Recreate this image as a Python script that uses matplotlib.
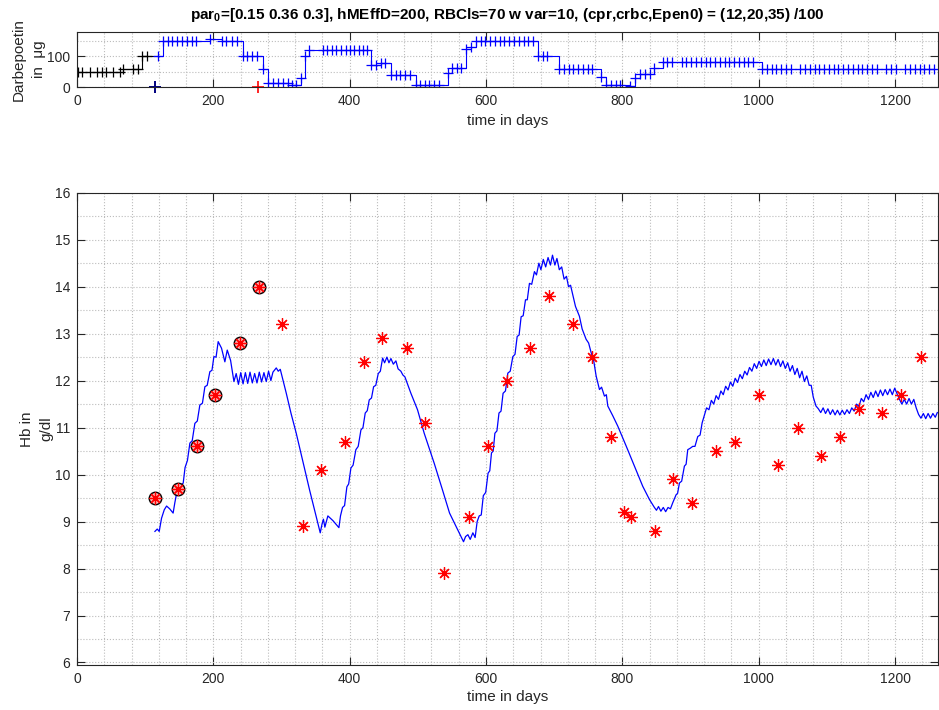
import matplotlib

matplotlib.use("Agg")

import matplotlib.pyplot as plt
import numpy as np
from matplotlib.ticker import MultipleLocator

plt.rcParams["font.family"] = ["Liberation Sans", "DejaVu Sans"]
plt.rcParams["mathtext.fontset"] = "custom"
plt.rcParams["mathtext.rm"] = "Liberation Sans"
plt.rcParams["mathtext.bf"] = "Liberation Sans:bold"

TITLE = (r"par$_\mathbf{0}$=[0.15 0.36 0.3], hMEffD=200, RBCls=70 w var=10, "
         r"(cpr,crbc,Epen0) = (12,20,35) /100")

# --- doses (top panel) ---
pre_days = [1, 8, 19, 29, 36, 43, 53, 63, 68, 82, 90, 95, 102]
pre_dose = [50, 50, 50, 50, 50, 50, 50, 50, 60, 60, 60, 100, 100]

post_days = [119, 126, 133, 140, 147, 154, 161, 168, 175, 195, 212, 219, 227, 235,
             243, 250, 257, 264, 273, 280, 288, 295, 302, 309, 315, 321, 328, 334,
             341, 361, 367, 374, 380, 387, 394, 400, 407, 413, 420, 426, 432, 439,
             446, 452, 461, 468, 474, 481, 488, 497, 503, 510, 517, 524, 531, 544,
             550, 557, 564, 571, 578, 585, 592, 599, 606, 613, 620, 627, 634, 641,
             648, 655, 662, 669, 676, 683, 690, 707, 714, 721, 728, 735, 742, 749,
             756, 769, 776, 783, 790, 797, 811, 818, 826, 833, 840, 847, 859, 866,
             873, 887, 894, 901, 908, 915, 922, 929, 936, 943, 950, 957, 964, 971,
             978, 985, 992, 1005, 1012, 1019, 1026, 1033, 1040, 1047, 1061, 1068,
             1075, 1082, 1089, 1096, 1103, 1110, 1117, 1124, 1131, 1138, 1145, 1152,
             1159, 1166, 1173, 1187, 1194, 1201, 1215, 1222, 1229, 1236, 1243, 1250,
             1257]
post_dose = [100, 150, 150, 150, 150, 150, 150, 150, 150, 155, 150, 150, 150, 150,
             100, 100, 100, 100, 60, 15, 15, 15, 15, 15, 8, 8, 30, 100,
             120, 120, 120, 120, 120, 120, 120, 120, 120, 120, 120, 120, 72, 72,
             80, 80, 40, 40, 40, 40, 40, 7, 7, 7, 7, 7, 7, 45,
             63, 63, 63, 125, 130, 150, 150, 150, 150, 150, 150, 150, 150, 150,
             150, 150, 150, 150, 100, 100, 100, 60, 60, 60, 60, 60, 60, 60,
             60, 34, 7, 7, 7, 7, 4, 29, 43, 43, 43, 61, 82, 82,
             82, 82, 82, 82, 82, 82, 82, 82, 82, 82, 82, 82, 82, 82,
             82, 82, 82, 60, 60, 60, 60, 60, 60, 60, 60, 60,
             60, 60, 60, 60, 60, 60, 60, 60, 60, 60, 60, 60,
             60, 60, 60, 60, 60, 60, 60, 60, 60, 60, 60, 60,
             60]
fit_start_day = 114
fit_end_day = 266

# --- Hb measurements (bottom panel) ---
hb_days = [114, 148.5, 176, 203, 239, 267, 301, 331, 358.5, 393, 420.5, 448, 484,
           511, 539, 575, 603, 630.5, 665, 693, 728, 755, 784, 803, 812, 848, 875,
           902, 937, 965, 1000, 1029, 1057, 1092, 1119, 1147, 1181, 1209, 1238.5]
hb_vals = [9.5, 9.7, 10.6, 11.7, 12.8, 14.0, 13.2, 8.9, 10.1, 10.7, 12.4, 12.9, 12.7,
           11.1, 7.9, 9.1, 10.6, 12.0, 12.7, 13.8, 13.2, 12.5, 10.8, 9.2, 9.1, 8.8, 9.9,
           9.4, 10.5, 10.7, 11.7, 10.2, 11.0, 10.4, 10.8, 11.4, 11.3, 11.7, 12.5]
n_fitted = 6

# simulated Hb (day, g/dl)
sim_curve = [
    (114.3, 8.79), (117.7, 8.84), (120.6, 8.79), (124, 9.07), (128, 9.25), (131.4, 9.33),
    (136, 9.27), (141, 9.18), (143.5, 9.4), (148.5, 9.78), (152, 9.76), (155.8, 9.82),
    (158.5, 10.15), (162, 10.3), (165.6, 10.67), (169, 10.72), (172.9, 11.09),
    (176.5, 11.14), (180.2, 11.48), (184, 11.52), (187.6, 11.87), (191, 11.9),
    (194.9, 12.19), (198, 12.22), (200.8, 12.51), (204, 12.5), (207.1, 12.83),
    (212, 12.69), (216.9, 12.4), (220.4, 12.65), (225.3, 12.43), (230.2, 11.98),
    (233.5, 12.15), (236.8, 11.92), (240.2, 12.17), (243.6, 11.93), (247, 12.17),
    (250.4, 11.94), (253.8, 12.18), (257.2, 11.95), (260.6, 12.15), (264, 11.95),
    (267.4, 12.18), (270.8, 11.97), (274.2, 12.17), (277.6, 11.98), (281, 12.2),
    (284.4, 12.0), (287.4, 12.18), (292.3, 12.27), (295.2, 12.2), (298.2, 12.24),
    (302, 12.02), (307, 11.73), (314, 11.3), (321.6, 10.88), (331.4, 10.28),
    (341.2, 9.67), (351, 9.1), (356.8, 8.76), (359.5, 8.95), (361.5, 9.05),
    (363.6, 8.88), (368, 9.12), (375.4, 9.02), (384.2, 8.87), (386.5, 9.12),
    (389.5, 9.3), (392.5, 9.34), (395.9, 9.74), (398.5, 9.8), (401.8, 10.14),
    (405, 10.2), (409.1, 10.53), (412.5, 10.6), (416.5, 10.95), (419.5, 11.0),
    (422.8, 11.31), (425.8, 11.36), (428.7, 11.59), (432, 11.63), (435.1, 11.87),
    (438.3, 11.9), (441.9, 12.15), (445, 12.2), (448.3, 12.48), (451.2, 12.38),
    (454.6, 12.5), (457.6, 12.38), (460.5, 12.47), (464, 12.35), (467.8, 12.42),
    (471, 12.25), (475.1, 12.2), (478, 12.12), (481, 12.08), (489.8, 11.73),
    (499.5, 11.38), (509.3, 10.88), (524, 10.24), (536.2, 9.67), (546.5, 9.18),
    (558.7, 8.82), (567, 8.57), (570, 8.68), (573.4, 8.72), (576.8, 8.62),
    (580.7, 8.76), (584, 8.66), (587, 9.0), (590, 9.12), (593, 9.14), (596, 9.55),
    (599.5, 9.62), (603, 10.03), (605.5, 10.08), (608, 10.46), (610.5, 10.5),
    (613, 10.88), (616, 10.93), (619, 11.31), (622, 11.35), (625, 11.73),
    (628.5, 11.78), (632, 12.16), (635.5, 12.2), (639.3, 12.51), (642.5, 12.56),
    (645.7, 12.94), (648.5, 12.97), (651.5, 13.36), (654.5, 13.38), (657.9, 13.72),
    (660.5, 13.72), (663.7, 14.07), (667, 14.05), (671, 14.32), (674, 14.25),
    (677.5, 14.5), (680.5, 14.36), (684, 14.58), (687.5, 14.42), (691, 14.62),
    (694.5, 14.46), (697.5, 14.67), (701, 14.46), (704, 14.6), (707.5, 14.36),
    (711, 14.42), (714.5, 14.16), (718, 14.22), (721, 14.0), (724, 14.03),
    (731.2, 13.58), (737, 13.37), (741, 13.1), (746.8, 12.88), (750.5, 12.8),
    (754.1, 12.6), (758, 12.42), (761.5, 12.1), (766.4, 11.81), (769.5, 11.86),
    (773.7, 11.67), (776.5, 11.7), (778.6, 11.46), (786, 11.25), (793.3, 11.03),
    (805.5, 10.61), (817.7, 10.18), (829.9, 9.75), (839.7, 9.47), (847, 9.3),
    (850, 9.24), (853, 9.32), (856.5, 9.22), (860, 9.3), (863.5, 9.21), (867, 9.3),
    (870.5, 9.27), (873.9, 9.4), (878.8, 9.57), (881, 9.6), (883.7, 9.82),
    (887, 9.86), (891, 10.18), (893.5, 10.22), (895.9, 10.53), (899.5, 10.56),
    (903.2, 10.6), (906.5, 10.6), (910.6, 10.81), (914, 10.84), (917, 11.1),
    (920, 11.25), (923.5, 11.42), (927, 11.38), (930.5, 11.58), (934, 11.5),
    (937.5, 11.68), (941, 11.6), (944.5, 11.78), (948, 11.7), (951.5, 11.88),
    (955, 11.8), (958.5, 11.97), (962, 11.88), (965.5, 12.05), (969, 11.96),
    (972.5, 12.13), (976, 12.04), (979.5, 12.2), (983, 12.12), (986.5, 12.28),
    (990, 12.2), (993.5, 12.36), (997, 12.26), (1000.5, 12.41), (1004, 12.3),
    (1007.5, 12.44), (1011, 12.32), (1014.5, 12.46), (1018, 12.34), (1021.5, 12.47),
    (1025, 12.33), (1028.5, 12.45), (1032, 12.3), (1035.5, 12.42), (1039, 12.26),
    (1042.5, 12.38), (1046, 12.2), (1049.5, 12.32), (1053, 12.13), (1056.5, 12.26),
    (1060, 12.06), (1063.5, 12.2), (1067, 11.98), (1070.5, 12.1), (1074, 11.9),
    (1077, 11.9), (1080, 11.65), (1084, 11.46), (1087.5, 11.4), (1091, 11.32),
    (1094.5, 11.42), (1098, 11.3), (1101.5, 11.4), (1105, 11.28), (1108.5, 11.38),
    (1112, 11.27), (1115.5, 11.37), (1119, 11.27), (1122.5, 11.37), (1126, 11.28),
    (1129.5, 11.38), (1133, 11.3), (1136.5, 11.42), (1140, 11.35), (1143.5, 11.5),
    (1147, 11.45), (1150.5, 11.62), (1154, 11.55), (1157.5, 11.7), (1161, 11.6),
    (1164.5, 11.75), (1168, 11.64), (1171.5, 11.78), (1175, 11.66), (1178.5, 11.8),
    (1182, 11.68), (1185.5, 11.81), (1189, 11.7), (1192.5, 11.82), (1196, 11.7),
    (1199.5, 11.84), (1203, 11.72), (1206.5, 11.6), (1210, 11.5), (1213.5, 11.6),
    (1217, 11.5), (1220.5, 11.62), (1224, 11.5), (1227.5, 11.6), (1231, 11.42),
    (1234.5, 11.28), (1238, 11.2), (1241.5, 11.3), (1245, 11.19), (1248.5, 11.3),
    (1252, 11.2), (1255.5, 11.3), (1259, 11.22), (1262, 11.32),
]

X_MAX = 1263
AX_COLOR = "#262626"
GRID_COLOR = "#bcbcbc"
ASTERISK = (8, 2, 0)


def style_axis(axis, xmajor, xminor, ymajor, yminor):
    axis.xaxis.set_major_locator(MultipleLocator(xmajor))
    axis.xaxis.set_minor_locator(MultipleLocator(xminor))
    axis.yaxis.set_major_locator(MultipleLocator(ymajor))
    axis.yaxis.set_minor_locator(MultipleLocator(yminor))
    axis.grid(True, which="both", linestyle=":", color=GRID_COLOR, linewidth=0.8)
    axis.set_axisbelow(True)
    axis.tick_params(which="major", direction="in", length=6, width=0.8,
                     top=True, right=True, colors=AX_COLOR, labelsize=10, pad=5)
    axis.tick_params(which="minor", length=0)
    for spine in axis.spines.values():
        spine.set_color(AX_COLOR)
        spine.set_linewidth(0.8)


fig = plt.figure(figsize=(9.39, 7.10), dpi=100)

# top panel: darbepoetin doses
ax1 = fig.add_axes([77 / 939, 1 - 87.3 / 710, 861 / 939, 55.6 / 710])
ax1.step(pre_days + [post_days[0]], pre_dose + [pre_dose[-1]], where="post",
         color="k", lw=0.8)
ax1.plot(pre_days, pre_dose, ls="none", marker="+", color="k", ms=7, mew=0.9)
ax1.step(post_days + [X_MAX], post_dose + [post_dose[-1]], where="post",
         color="b", lw=0.8)
ax1.plot(post_days, post_dose, ls="none", marker="+", color="b", ms=7, mew=0.9)
ax1.plot([fit_start_day], [0], ls="none", marker="+", color="#00007f", ms=9, mew=1.4,
         clip_on=False)
ax1.plot([fit_end_day], [0], ls="none", marker="+", color="r", ms=9, mew=1.2,
         clip_on=False)
ax1.set_xlim(0, X_MAX)
ax1.set_ylim(0, 180)
style_axis(ax1, 200, 40, 100, 50)
ax1.set_xlabel("time in days", fontsize=11, color=AX_COLOR, labelpad=4)
ax1.set_ylabel("Darbepoetin\nin  μg", fontsize=11, color=AX_COLOR, linespacing=1.6)
ax1.yaxis.set_label_coords(-0.036, 0.5)
ax1.set_title(TITLE, fontsize=11, fontweight="bold", color="k", pad=9)

# bottom panel: Hb
ax2 = fig.add_axes([77 / 939, 1 - 665.3 / 710, 861 / 939, 472.6 / 710])
sim = np.array(sim_curve)
ax2.plot(sim[:, 0], sim[:, 1], color="b", lw=0.9)
ax2.plot(hb_days[:n_fitted], hb_vals[:n_fitted], ls="none", marker="o", mfc="#ffb3b3",
         mec="k", ms=9, mew=1.0)
ax2.plot(hb_days, hb_vals, ls="none", marker=ASTERISK, color="r", ms=9, mew=0.9)
ax2.set_xlim(0, X_MAX)
ax2.set_ylim(5.94, 16)
style_axis(ax2, 200, 40, 1, 0.5)
ax2.set_xlabel("time in days", fontsize=11, color=AX_COLOR, labelpad=3)
ax2.set_ylabel("Hb in\ng/dl", fontsize=11, color=AX_COLOR, linespacing=1.4)
ax2.yaxis.set_label_coords(-0.028, 0.5)

fig.savefig("out.png", dpi=100)
plt.close(fig)
